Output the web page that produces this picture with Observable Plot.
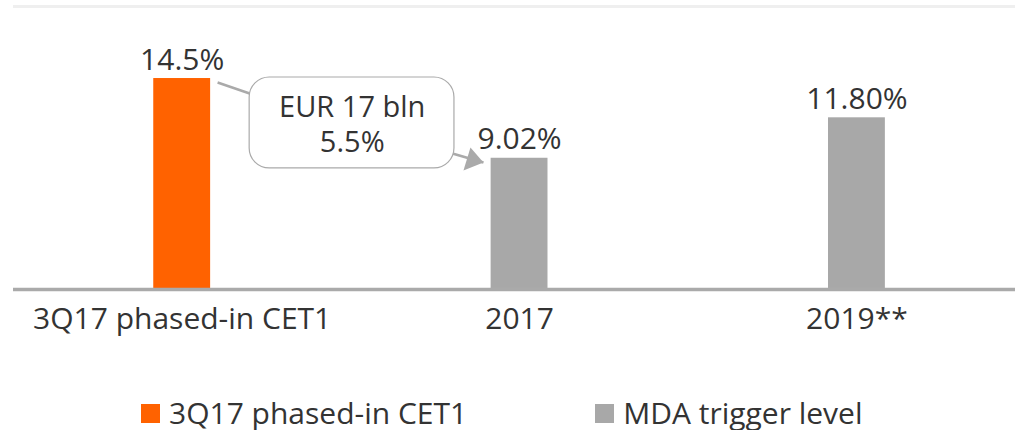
<!DOCTYPE html>
<html><head><meta charset="utf-8">
<script src="https://cdn.jsdelivr.net/npm/d3@7"></script>
<script src="https://cdn.jsdelivr.net/npm/@observablehq/plot@0.6"></script>
<style>
body{margin:0;background:#fff;font-family:"Open Sans",sans-serif;color:#333;}
#legend{display:flex;margin-top:46px;padding-left:141px;font-size:30px;line-height:34px;align-items:center;}
.item{display:flex;align-items:center;}
.item + .item{margin-left:128px;}
.sw{width:19px;height:19px;margin-right:9px;}
</style></head><body>
<div id="chart"></div>
<div id="legend"></div>
<script>
// ---- data ----
const categories = ["3Q17 phased-in CET1", "2017", "2019**"];
const values = [14.5, 9.02, 11.80];
const valueLabels = ["14.5%", "9.02%", "11.80%"];
const series = ["3Q17 phased-in CET1", "MDA trigger level", "MDA trigger level"];
const seriesNames = ["3Q17 phased-in CET1", "MDA trigger level"];
const seriesColors = ["#FF6200", "#A8A8A8"];
const annotationLines = "EUR 17 bln\n5.5%";
const yMax = 19.45;
// annotation geometry in data units (x = category index, y = percent)
const annBox = [{x1: 0.2, x2: 0.807, y1: 8.32, y2: 14.57}];
const annText = [{x: 0.504, y: 11.44, text: annotationLines}];
const annConnector = [{x1: 0.105, y1: 14.23, x2: 0.2, y2: 13.47}];
const annArrow = [{x1: 0.801, y1: 9.35, x2: 0.893, y2: 8.73}];

const rows = categories.map((c, i) => ({i, category: c, value: values[i], label: valueLabels[i], series: series[i]}));

const arrowHead = {
  draw(ctx) {
    ctx.moveTo(0, 0);
    ctx.lineTo(-13, -15);
    ctx.lineTo(-20, 8);
    ctx.closePath();
  }
};

const textColor = "#333";
const fontSize = 30;

const chart = Plot.plot({
  width: 1015,
  height: 350,
  marginTop: 6,
  marginBottom: 61,
  marginLeft: 13,
  marginRight: 0,
  style: {fontFamily: '"Open Sans", sans-serif', background: "#fff", overflow: "visible"},
  x: {domain: [-0.5, 2.47], axis: null},
  y: {domain: [0, yMax], axis: null},
  color: {domain: seriesNames, range: seriesColors},
  marks: [
    Plot.ruleY([yMax], {stroke: "#efefef", strokeWidth: 3}),
    Plot.rectY(rows, {x1: d => d.i - 0.5, x2: d => d.i + 0.5, y: "value", fill: "series", insetLeft: 140.25, insetRight: 140.25}),
    Plot.ruleY([0], {stroke: "#aaaaaa", strokeWidth: 3.5}),
    Plot.text(rows, {x: "i", y: "value", text: "label", dy: -9, lineAnchor: "bottom", fontSize, fill: textColor}),
    Plot.text(rows, {x: "i", frameAnchor: "bottom", text: "category", dy: 18, lineAnchor: "top", fontSize, fill: textColor}),
    Plot.link(annConnector, {x1: "x1", y1: "y1", x2: "x2", y2: "y2", stroke: "#aaaaaa", strokeWidth: 2.5}),
    Plot.link(annArrow, {x1: "x1", y1: "y1", x2: "x2", y2: "y2", stroke: "#aaaaaa", strokeWidth: 2.5}),
    Plot.dot(annArrow, {x: "x2", y: "y2", symbol: arrowHead, fill: "#aaaaaa", stroke: "none"}),
    Plot.rect(annBox, {x1: "x1", x2: "x2", y1: "y1", y2: "y2", rx: 20, fill: "white", stroke: "#aaaaaa", strokeWidth: 1.2}),
    Plot.text(annText, {x: "x", y: "y", text: "text", fontSize: 29, lineHeight: 1.22, fill: textColor})
  ]
});
document.getElementById("chart").appendChild(chart);

const legend = document.getElementById("legend");
seriesNames.forEach((name, k) => {
  const item = document.createElement("div");
  item.className = "item";
  const sw = document.createElement("span");
  sw.className = "sw";
  sw.style.background = seriesColors[k];
  const label = document.createElement("span");
  label.textContent = name;
  item.appendChild(sw);
  item.appendChild(label);
  legend.appendChild(item);
});
</script>
</body></html>
